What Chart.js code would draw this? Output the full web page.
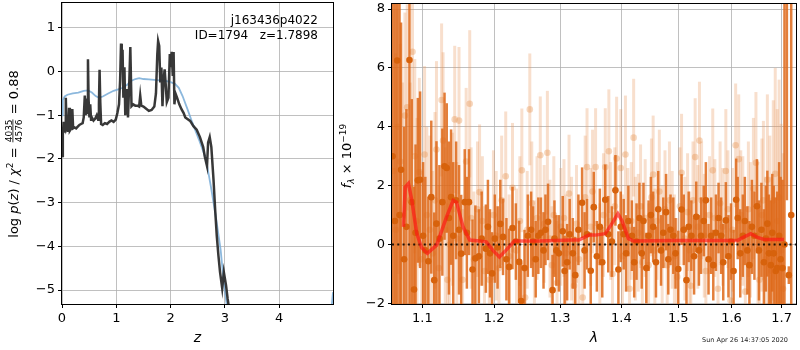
<!DOCTYPE html>
<html>
<head>
<meta charset="utf-8">
<script src="https://cdn.jsdelivr.net/npm/chart.js@4.4.0/dist/chart.umd.min.js"></script>
<style>
  body { margin: 0; background: #fff; }
  #wrap { position: relative; width: 800px; height: 350px; }
  canvas { position: absolute; top: 0; }
  #pz { left: 0; }
  #sp { left: 335px; }
</style>
</head>
<body>
<div id="wrap">
  <canvas id="pz" width="335" height="350"></canvas>
  <canvas id="sp" width="465" height="350"></canvas>
</div>
<script>
// ---- left panel: log p(z) ----
const zPz = [0.000, 0.015, 0.030, 0.045, 0.060, 0.070, 0.085, 0.100, 0.115, 0.130,
  0.145, 0.160, 0.175, 0.190, 0.205, 0.230, 0.260, 0.290, 0.320, 0.350,
  0.380, 0.400, 0.420, 0.435, 0.450, 0.465, 0.478, 0.490, 0.505, 0.520,
  0.535, 0.550, 0.580, 0.610, 0.640, 0.665, 0.680, 0.692, 0.705, 0.720,
  0.750, 0.790, 0.830, 0.870, 0.910, 0.950, 0.990, 1.020, 1.050, 1.070,
  1.087, 1.100, 1.115, 1.130, 1.150, 1.165, 1.180, 1.200, 1.215, 1.240,
  1.258, 1.280, 1.310, 1.350, 1.390, 1.420, 1.440, 1.460, 1.500, 1.550,
  1.600, 1.650, 1.700, 1.730, 1.755, 1.770, 1.790, 1.810, 1.830, 1.850,
  1.870, 1.890, 1.910, 1.930, 1.960, 1.985, 2.000, 2.020, 2.040, 2.055,
  2.070, 2.090, 2.120, 2.160, 2.200, 2.240, 2.270, 2.360, 2.420, 2.480,
  2.540, 2.600, 2.630, 2.670, 2.690, 2.720, 2.750, 2.790, 2.820, 2.850,
  2.880, 2.910, 2.950, 2.980, 3.020, 3.050, 3.080];
const logPz = [-1.93, -1.45, -1.15, -1.40, -1.20, -0.60, -1.30, -1.25, -1.38, -0.83,
  -1.35, -1.32, -1.30, -0.86, -1.30, -1.28, -1.30, -1.26, -1.22, -1.20,
  -1.18, -1.05, -0.55, -1.00, -0.62, -0.95, 0.28, -0.65, -1.05, -0.75,
  -1.10, -1.05, -1.12, -1.08, -1.00, -1.10, -0.75, 0.04, -0.70, -1.20,
  -1.22, -1.18, -1.20, -1.15, -1.12, -1.15, -1.10, -0.95, -0.75, -0.20,
  0.64, 0.30, 0.50, -0.60, 0.10, -1.00, -0.70, -0.40, -1.05, -0.20,
  0.56, -0.79, -0.75, -0.78, -0.78, -0.80, -0.55, -0.78, -0.80, -0.85,
  -0.90, -0.88, -0.80, -0.50, 0.40, 0.70, 0.59, -0.25, 0.09, -0.79,
  -0.20, 0.05, -0.30, -0.70, -0.60, 0.40, 0.10, 0.45, -0.10, 0.45,
  -0.75, -0.50, -0.60, -0.75, -0.86, -0.95, -1.05, -1.13, -1.25, -1.33,
  -1.50, -1.73, -1.95, -2.16, -1.63, -1.50, -1.73, -2.48, -3.16, -3.76,
  -4.21, -4.59, -4.96, -4.59, -4.89, -5.20, -5.45];

const zChi = [0.000, 0.015, 0.050, 0.100, 0.200, 0.300, 0.400, 0.480, 0.550, 0.620,
  0.680, 0.750, 0.850, 0.950, 1.050, 1.120, 1.200, 1.280, 1.350, 1.420,
  1.500, 1.600, 1.700, 1.800, 1.900, 2.000, 2.080, 2.150, 2.220, 2.310,
  2.400, 2.520, 2.650, 2.740, 2.830, 2.920, 2.980, 3.040, 4.000, 4.960, 4.990];
const logChi = [-1.00, -0.65, -0.57, -0.53, -0.50, -0.48, -0.44, -0.43, -0.48, -0.56,
  -0.60, -0.57, -0.50, -0.44, -0.40, -0.37, -0.30, -0.21, -0.17, -0.15,
  -0.17, -0.18, -0.19, -0.20, -0.21, -0.24, -0.28, -0.37, -0.56, -0.86,
  -1.17, -1.55, -2.00, -2.62, -3.30, -4.07, -4.83, -5.40, null, -5.45, -5.05];

const zTicks = [0, 1, 2, 3, 4];
const pzTicks = [-5, -4, -3, -2, -1, 0, 1];

// ---- right panel: spectrum ----
const lamDark = [1.061, 1.064, 1.067, 1.070, 1.072, 1.076, 1.079, 1.083, 1.086, 1.089,
  1.091, 1.094, 1.097, 1.101, 1.104, 1.108, 1.112, 1.116, 1.119, 1.123,
  1.127, 1.130, 1.133, 1.136, 1.139, 1.142, 1.146, 1.150, 1.153, 1.158,
  1.161, 1.164, 1.169, 1.173, 1.178, 1.182, 1.188, 1.191, 1.194, 1.197,
  1.201, 1.205, 1.209, 1.213, 1.218, 1.222, 1.227, 1.232, 1.237, 1.240,
  1.245, 1.250, 1.255, 1.258, 1.262, 1.266, 1.270, 1.274, 1.277, 1.281,
  1.288, 1.291, 1.294, 1.298, 1.304, 1.307, 1.311, 1.315, 1.320, 1.324,
  1.329, 1.335, 1.339, 1.343, 1.349, 1.354, 1.359, 1.364, 1.368, 1.373,
  1.378, 1.384, 1.390, 1.395, 1.399, 1.404, 1.408, 1.412, 1.418, 1.422,
  1.426, 1.431, 1.435, 1.438, 1.443, 1.447, 1.451, 1.455, 1.460, 1.464,
  1.469, 1.473, 1.478, 1.482, 1.486, 1.491, 1.495, 1.500, 1.506, 1.510,
  1.515, 1.519, 1.524, 1.529, 1.533, 1.538, 1.542, 1.547, 1.551, 1.556,
  1.561, 1.565, 1.570, 1.575, 1.580, 1.584, 1.589, 1.594, 1.599, 1.604,
  1.609, 1.612, 1.617, 1.622, 1.626, 1.631, 1.635, 1.640, 1.645, 1.650,
  1.654, 1.659, 1.664, 1.668, 1.671, 1.674, 1.678, 1.681, 1.684, 1.688,
  1.691, 1.695, 1.698, 1.702, 1.706, 1.711, 1.715, 1.720];
const fluxDark = [3.0, 0.8, 6.25, 1.0, 2.54, -0.5, 0.6, 6.27, 1.44, -1.53,
  0.4, 2.18, 2.2, 0.3, -0.2, -0.57, 1.61, -1.21, 0.71, 0.2,
  1.44, 2.66, 2.6, 0.9, 1.61, 0.3, 1.5, 0.5, -0.31, 1.44,
  0.4, 1.44, -0.85, -0.47, -0.4, 0.2, -0.14, 0.6, -0.3, -0.98,
  0.2, -0.1, 0.7, 0.26, -0.5, -0.76, 0.56, 0.1, -0.59, -1.92,
  -0.8, 0.3, 0.5, 0.1, -0.5, 0.3, 0.4, -0.2, 0.5, 0.77,
  -1.55, 0.2, -0.2, -0.3, 0.45, -0.9, -0.6, 0.35, -0.3, -1.04,
  0.5, 1.42, -0.2, 0.35, -0.89, 1.27, -0.4, 0.6, -0.6, 1.52,
  0.35, 0.1, 1.84, -0.85, 0.6, 0.35, -0.3, 0.8, 0.3, -0.6,
  0.1, 0.9, -0.3, 0.8, -0.8, 0.3, 1.0, 0.6, -0.6, 1.2,
  -0.2, 0.4, 1.1, -0.5, 0.5, 0.3, -0.3, -0.83, 1.19, 0.5,
  -1.21, 0.6, 0.3, -0.4, 0.94, -0.2, 0.3, 0.8, 1.5, -0.5,
  0.3, -0.7, 0.4, 0.9, 0.3, -0.6, 0.82, -0.4, 0.1, -0.9,
  1.52, 0.9, -0.3, 0.3, 0.8, -0.2, -0.7, 0.6, 0.3, 1.3,
  -0.2, 0.5, -0.6, 0.2, 0.71, -0.3, -0.7, 0.4, -0.3, -0.9,
  -0.8, 0.3, -0.5, -0.8, 0.0, 9.0, -1.04, 1.0];
const errDark = [12, 12, 12, 10, 5, 4.5, 4, 10, 3.5, 3.5,
  3, 2.8, 3, 2.5, 2.5, 2.2, 2.6, 2.3, 2.8, 2.5,
  2.5, 2.5, 2.2, 2.6, 2.3, 2.5, 2.0, 2.2, 2.0, 1.8,
  1.9, 1.8, 1.7, 1.8, 1.6, 1.6, 1.5, 1.6, 1.5, 1.4,
  1.5, 1.4, 1.5, 1.3, 1.4, 1.3, 1.4, 1.3, 1.4, 1.3,
  1.3, 1.4, 1.3, 1.2, 1.3, 1.3, 1.2, 1.3, 1.2, 1.3,
  1.2, 1.3, 1.2, 1.3, 1.2, 1.2, 1.3, 1.2, 1.2, 1.3,
  1.2, 1.2, 1.3, 1.2, 1.3, 1.2, 1.2, 1.3, 1.2, 1.2,
  1.3, 1.2, 1.2, 1.3, 1.2, 1.2, 1.3, 1.2, 1.2, 1.2,
  1.3, 1.2, 1.2, 1.3, 1.2, 1.2, 1.3, 1.2, 1.2, 1.3,
  1.2, 1.2, 1.3, 1.2, 1.2, 1.3, 1.2, 1.3, 1.2, 1.2,
  1.3, 1.2, 1.2, 1.3, 1.2, 1.2, 1.3, 1.2, 1.3, 1.2,
  1.3, 1.2, 1.3, 1.2, 1.3, 1.3, 1.3, 1.4, 1.3, 1.4,
  1.4, 1.4, 1.5, 1.4, 1.5, 1.5, 1.5, 1.6, 1.5, 1.6,
  1.7, 1.6, 1.8, 1.8, 1.8, 2.0, 2.2, 2.0, 2.3, 2.5,
  2.6, 2.5, 2.8, 3.0, 12, 7.5, 0.3, 12];

const lamLight = [1.062, 1.065, 1.068, 1.071, 1.074, 1.077, 1.080, 1.084, 1.087, 1.090,
  1.093, 1.096, 1.099, 1.103, 1.106, 1.110, 1.114, 1.117, 1.119, 1.122,
  1.126, 1.128, 1.131, 1.134, 1.137, 1.141, 1.144, 1.147, 1.150, 1.155,
  1.160, 1.165, 1.167, 1.171, 1.176, 1.179, 1.183, 1.186, 1.193, 1.199,
  1.203, 1.207, 1.211, 1.217, 1.222, 1.227, 1.233, 1.238, 1.241, 1.246,
  1.249, 1.253, 1.256, 1.260, 1.264, 1.269, 1.275, 1.280, 1.284, 1.287,
  1.290, 1.295, 1.301, 1.306, 1.309, 1.314, 1.318, 1.322, 1.326, 1.330,
  1.336, 1.340, 1.343, 1.349, 1.352, 1.357, 1.364, 1.370, 1.373, 1.379,
  1.382, 1.385, 1.389, 1.392, 1.399, 1.402, 1.407, 1.411, 1.414, 1.417,
  1.421, 1.424, 1.429, 1.433, 1.436, 1.441, 1.447, 1.452, 1.455, 1.458,
  1.462, 1.466, 1.471, 1.476, 1.480, 1.484, 1.489, 1.493, 1.498, 1.503,
  1.506, 1.512, 1.517, 1.521, 1.523, 1.527, 1.531, 1.536, 1.539, 1.543,
  1.548, 1.551, 1.558, 1.564, 1.568, 1.574, 1.578, 1.583, 1.589, 1.593,
  1.598, 1.602, 1.608, 1.614, 1.618, 1.622, 1.627, 1.633, 1.637, 1.643,
  1.648, 1.652, 1.655, 1.660, 1.663, 1.667, 1.671, 1.676, 1.679, 1.683,
  1.687, 1.691, 1.695, 1.699, 1.703];
const fluxLight = [2.5, 0.5, 4.0, 2.82, 1.0, 4.38, 4.66, 1.5, 6.55, 3.0,
  0.8, 2.46, -0.5, 3.06, 1.0, 0.5, -0.3, 1.5, 3.23, -0.8,
  4.91, 3.53, 0.5, -1.2, 0.0, 1.2, 4.25, 0.2, 4.21, -1.2,
  2.82, 4.78, 0.9, -0.5, 1.2, 1.78, 0.8, -0.9, -1.2, 1.0,
  0.3, -0.8, 1.5, 2.32, -0.4, 1.93, -0.2, 0.8, 2.52, -1.8,
  0.5, 4.59, 1.4, -0.5, 0.9, 3.03, 0.7, 3.12, 0.2, -0.7,
  1.0, -1.3, 0.6, 0.9, -0.3, 1.73, 0.2, -1.4, 0.7, -0.5,
  -1.8, 1.6, 2.63, 0.6, 1.8, 2.63, -0.6, 1.0, 2.63, 3.17,
  0.8, -1.0, 1.3, 2.92, 2.6, -0.4, 3.06, 0.5, -1.5, 0.8,
  3.63, 0.2, 0.4, 1.3, -0.6, 0.9, -0.7, 1.6, 2.38, -0.2,
  0.8, 1.8, 0.0, 1.2, -0.7, 1.5, 0.5, -0.4, -1.1, 1.3,
  2.44, 0.2, 1.1, -0.2, -1.4, 1.5, 2.97, 0.6, 3.53, 1.5,
  0.3, -0.9, 1.0, 2.52, 0.9, -1.5, 1.4, 0.6, 2.5, 1.2,
  -1.9, 0.5, 3.37, 2.9, 1.0, 0.8, -1.6, 1.2, 0.5, 1.9,
  2.78, 0.3, -1.2, 1.0, 1.5, -0.5, 2.2, 0.7, -0.9, 1.5,
  2.4, 0.8, 1.6, -0.2, -1.5];
const errLight = [8, 6, 5, 4, 4.5, 3.5, 3.5, 4, 3.5, 3.3,
  3.5, 3.2, 3.0, 3.0, 3.0, 3.2, 2.8, 3.0, 3.0, 2.8,
  2.6, 3.0, 2.8, 2.6, 2.8, 2.6, 2.5, 2.6, 2.5, 2.4,
  2.5, 2.5, 2.4, 2.3, 2.3, 2.3, 2.2, 2.2, 2.3, 2.2,
  2.2, 2.1, 2.2, 2.2, 2.1, 2.2, 2.1, 2.2, 2.1, 2.1,
  2.0, 1.9, 2.1, 2.0, 2.1, 2.0, 2.0, 2.1, 2.0, 2.0,
  2.0, 2.1, 2.0, 2.0, 2.0, 2.0, 2.1, 2.0, 2.0, 2.0,
  2.0, 2.1, 2.0, 2.0, 2.1, 2.0, 2.0, 2.1, 2.0, 2.1,
  2.0, 2.1, 2.0, 2.1, 2.0, 2.1, 2.0, 2.1, 2.1, 2.0,
  2.0, 2.1, 2.0, 2.1, 2.0, 2.0, 2.1, 2.0, 2.0, 2.1,
  2.0, 2.1, 2.0, 2.0, 2.1, 2.0, 2.0, 2.1, 2.0, 2.0,
  2.0, 2.1, 2.0, 2.0, 2.1, 2.0, 2.0, 2.1, 2.0, 2.0,
  2.1, 2.0, 2.0, 2.1, 2.0, 2.0, 2.1, 2.0, 2.1, 2.0,
  2.1, 2.1, 2.1, 2.2, 2.2, 2.2, 2.3, 2.3, 2.3, 2.4,
  2.4, 2.5, 2.5, 2.6, 2.7, 2.8, 2.9, 3.0, 3.2, 3.4,
  3.6, 3.8, 4.0, 4.3, 4.6];

const lamModel = [1.0752, 1.0774, 1.0816, 1.0861, 1.0926, 1.0990, 1.1066, 1.1192, 1.1328, 1.1418,
  1.1465, 1.1556, 1.1649, 1.1790, 1.1886, 1.1980, 1.2077, 1.2175, 1.2297, 1.2672,
  1.3190, 1.3297, 1.3457, 1.3566, 1.3731, 1.3841, 1.3941, 1.4008, 1.4121, 1.4206,
  1.4876, 1.5486, 1.6118, 1.6248, 1.6378, 1.6510, 1.6643, 1.7049];
const fluxModel = [0.6, 1.95, 2.07, 1.5, 0.37, -0.1, -0.3, -0.02, 0.94, 1.5,
  1.44, 0.6, 0.15, 0.12, 0.09, -0.19, -0.42, -0.19, 0.12, 0.12,
  0.15, 0.15, 0.32, 0.32, 0.37, 0.71, 1.05, 0.82, 0.2, 0.12,
  0.14, 0.14, 0.14, 0.26, 0.37, 0.24, 0.17, 0.17];

const lamTicks = [1.1, 1.2, 1.3, 1.4, 1.5, 1.6, 1.7];
const fluxTicks = [-2, 0, 2, 4, 6, 8];
const lamRange = [1.0603, 1.73];

// ---- helpers ----
Chart.defaults.font.family = 'DejaVu Sans';
Chart.defaults.font.size = 13;
Chart.defaults.color = '#000';

const pts = (xs, ys) => xs.map((x, i) => ({x: x, y: ys[i]}));
const minus = v => (v < 0 ? '\u2212' : '') + Math.abs(v);

function scaleOpts(min, max, list, size, vertical, fmt) {
  return {
    min: min, max: max,
    afterBuildTicks: s => { s.ticks = list.map(v => ({value: v})); },
    afterFit: s => {
      if (vertical) s.width = size; else s.height = size;
      s.paddingTop = s.paddingBottom = s.paddingLeft = s.paddingRight = 0;
    },
    grid: {color: '#b0b0b0', lineWidth: 0.8, tickColor: '#000', tickLength: 4, tickWidth: 1},
    border: {display: false},
    ticks: {padding: 3, color: '#000', autoSkip: false, maxRotation: 0, callback: fmt}
  };
}

const frame = {
  id: 'frame',
  afterDatasetsDraw(chart) {
    const {ctx, chartArea: a} = chart;
    ctx.save();
    ctx.strokeStyle = '#000';
    ctx.lineWidth = 1;
    ctx.strokeRect(Math.round(a.left) - 0.5, Math.round(a.top) - 0.5,
      Math.round(a.right - a.left) + 1, Math.round(a.bottom - a.top) + 1);
    ctx.restore();
  }
};

// vertical error bars, drawn just before each dataset's own points
const errorBars = {
  id: 'errorBars',
  beforeDatasetDraw(chart, args) {
    const ds = chart.data.datasets[args.index];
    if (!ds.errs) return;
    const {ctx, chartArea: a, scales: {x, y}} = chart;
    ctx.save();
    ctx.beginPath();
    ctx.rect(a.left, a.top, a.right - a.left, a.bottom - a.top);
    ctx.clip();
    ctx.strokeStyle = ds.errColor;
    ctx.lineWidth = ds.errWidth;
    ds.data.forEach((p, i) => {
      const px = x.getPixelForValue(p.x);
      ctx.beginPath();
      ctx.moveTo(px, y.getPixelForValue(p.y - ds.errs[i]));
      ctx.lineTo(px, y.getPixelForValue(p.y + ds.errs[i]));
      ctx.stroke();
    });
    ctx.restore();
  }
};

// rotated label made of runs of differently styled text
function drawRuns(ctx, runs, cx, cy) {
  ctx.save();
  ctx.translate(cx, cy);
  ctx.rotate(-Math.PI / 2);
  ctx.fillStyle = '#000';
  ctx.textBaseline = 'alphabetic';
  let w = 0;
  runs.forEach(r => {
    ctx.font = r.font;
    r.w = r.frac ? Math.max(ctx.measureText(r.frac[0]).width, ctx.measureText(r.frac[1]).width) + 2
                 : ctx.measureText(r.t).width;
    w += r.w;
  });
  let x = -w / 2;
  const base = 4.5;
  runs.forEach(r => {
    ctx.font = r.font;
    if (r.frac) {
      ctx.textAlign = 'center';
      ctx.fillText(r.frac[0], x + r.w / 2, base - 6);
      ctx.fillText(r.frac[1], x + r.w / 2, base + 4);
      ctx.fillRect(x + 1, base - 5, r.w - 2, 0.8);
    } else {
      ctx.textAlign = 'left';
      ctx.fillText(r.t, x, base + (r.dy || 0));
    }
    x += r.w;
  });
  ctx.restore();
}

const F = '13px "DejaVu Sans"', I = 'italic 13px "DejaVu Sans"';

const pzLabels = {
  id: 'pzLabels',
  afterDraw(chart) {
    const ctx = chart.ctx;
    drawRuns(ctx, [
      {t: 'log ', font: F}, {t: 'p', font: I}, {t: '(', font: F}, {t: 'z', font: I},
      {t: ') / ', font: F}, {t: '\u03c7', font: I}, {t: '2', font: '9px "DejaVu Sans"', dy: -5},
      {t: ' = ', font: F}, {frac: ['4035', '4576'], font: '9px "DejaVu Sans"'},
      {t: ' = 0.88', font: F}
    ], 13, 154);
    ctx.save();
    ctx.font = '12px "DejaVu Sans"';
    ctx.textAlign = 'right';
    ctx.textBaseline = 'middle';
    ctx.fillStyle = '#000';
    ctx.fillText('j163436p4022', 318, 21);
    ctx.fillText('ID=1794   z=1.7898', 318, 36);
    ctx.restore();
  }
};

const spLabels = {
  id: 'spLabels',
  afterDraw(chart) {
    const ctx = chart.ctx;
    drawRuns(ctx, [
      {t: 'f', font: I}, {t: '\u03bb', font: 'italic 9px "DejaVu Sans"', dy: 3},
      {t: ' \u00d7 10', font: F}, {t: '\u221219', font: '9px "DejaVu Sans"', dy: -5}
    ], 11, 156);
    ctx.save();
    ctx.font = '6.5px "DejaVu Sans"';
    ctx.textAlign = 'right';
    ctx.textBaseline = 'middle';
    ctx.fillStyle = '#222';
    ctx.fillText('Sun Apr 26 14:37:05 2020', 453, 340);
    ctx.restore();
  }
};

// ---- left chart ----
const pzX = scaleOpts(0, 4.99, zTicks, 46, false, v => minus(v));
pzX.type = 'linear';
pzX.title = {display: true, text: 'z', font: {style: 'italic', size: 14}, padding: {top: 0, bottom: 3}};
const pzY = scaleOpts(-5.32, 1.57, pzTicks, 62, true, v => minus(v));

new Chart(document.getElementById('pz'), {
  type: 'scatter',
  data: {
    datasets: [
      {data: pts(zPz, logPz), showLine: true, borderColor: 'rgba(45,45,45,0.95)', borderWidth: 2.5,
       pointRadius: 0, spanGaps: false},
      {data: pts(zChi, logChi), showLine: true, borderColor: 'rgba(120,172,215,0.85)', borderWidth: 1.8,
       pointRadius: 0, spanGaps: false}
    ]
  },
  options: {
    responsive: false,
    animation: false,
    layout: {padding: {top: 3, right: 2, left: 0, bottom: 0}},
    plugins: {legend: {display: false}, tooltip: {enabled: false}},
    scales: {x: pzX, y: pzY}
  },
  plugins: [frame, pzLabels]
});

// ---- right chart ----
const spX = scaleOpts(lamRange[0], lamRange[1], lamTicks, 46, false, v => v.toFixed(1));
spX.type = 'logarithmic';
spX.title = {display: true, text: '\u03bb', font: {style: 'italic', size: 14}, padding: {top: 0, bottom: 3}};
const spY = scaleOpts(-2.02, 8.17, fluxTicks, 57, true, v => minus(v));
spY.type = 'linear';

new Chart(document.getElementById('sp'), {
  type: 'scatter',
  data: {
    datasets: [
      {data: pts(lamModel, fluxModel), showLine: true, borderColor: 'rgba(255,20,20,0.65)', borderWidth: 3.5,
       pointRadius: 0},
      {data: pts(lamRange, [0, 0]), showLine: true, borderColor: 'rgba(0,0,0,0.85)', borderWidth: 2,
       borderDash: [2, 3.3], pointRadius: 0},
      {data: pts(lamDark, fluxDark), errs: errDark, errColor: 'rgba(222,105,25,0.85)', errWidth: 2.5,
       pointRadius: 3.3, pointBackgroundColor: '#d7620c', pointBorderWidth: 0},
      {data: pts(lamLight, fluxLight), errs: errLight, errColor: 'rgba(232,150,90,0.3)', errWidth: 3,
       pointRadius: 3.3, pointBackgroundColor: 'rgba(230,140,70,0.35)', pointBorderWidth: 0}
    ]
  },
  options: {
    responsive: false,
    animation: false,
    layout: {padding: {top: 3, right: 3, left: 0, bottom: 0}},
    plugins: {legend: {display: false}, tooltip: {enabled: false}},
    scales: {x: spX, y: spY}
  },
  plugins: [errorBars, frame, spLabels]
});
</script>
</body>
</html>
